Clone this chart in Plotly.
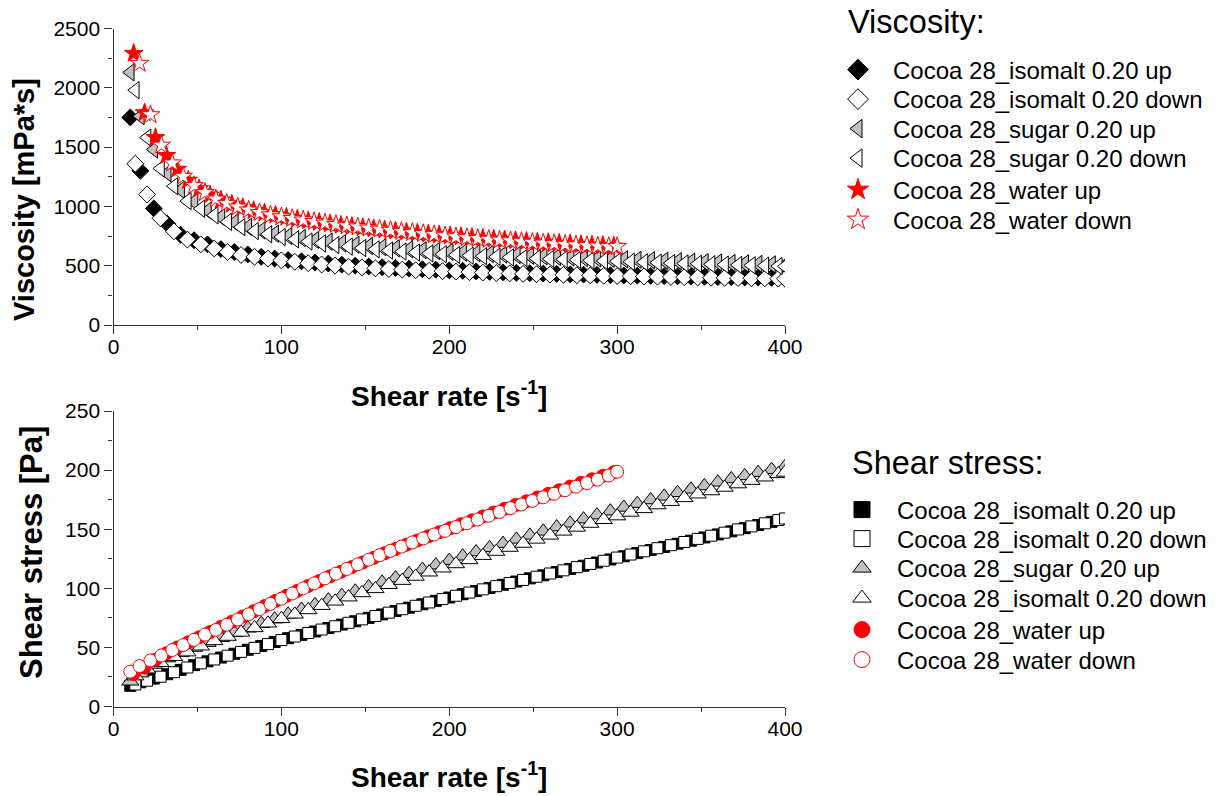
import plotly.graph_objects as go

W, H = 1219, 796
FONT = "Arial, Liberation Sans, sans-serif"

# ---------------- data ----------------
shear_up_400 = [10, 16, 24, 32, 40, 48, 56, 64, 72, 80, 88, 96, 104, 112, 120, 128, 136, 144, 152, 160,
                168, 176, 184, 192, 200, 208, 216, 224, 232, 240, 248, 256, 264, 272, 280, 288, 296, 304, 312, 320,
                328, 336, 344, 352, 360, 368, 376, 384, 392, 400]
shear_down_400 = [13, 20, 28, 36, 44, 52, 60, 68, 76, 84, 92, 100, 108, 116, 124, 132, 140, 148, 156, 164,
                  172, 180, 188, 196, 204, 212, 220, 228, 236, 244, 252, 260, 268, 276, 284, 292, 300, 308, 316, 324,
                  332, 340, 348, 356, 364, 372, 380, 388, 396, 400]
shear_water_up = [12, 18.5, 25, 31.5, 38, 44.5, 51, 57.5, 64, 70.5, 77, 83.5, 90, 96.5, 103, 109.5, 116, 122.5,
                  129, 135.5, 142, 148.5, 155, 161.5, 168, 174.5, 181, 187.5, 194, 200.5, 207, 213.5, 220, 226.5,
                  233, 239.5, 246, 252.5, 259, 265.5, 272, 278.5, 285, 291.5, 298]
shear_water_down = [10, 15.5, 22, 28.5, 35, 41.5, 48, 54.5, 61, 67.5, 74, 80.5, 87, 93.5, 100, 106.5, 113, 119.5,
                    126, 132.5, 139, 145.5, 152, 158.5, 165, 171.5, 178, 184.5, 191, 197.5, 204, 210.5, 217, 223.5,
                    230, 236.5, 243, 249.5, 256, 262.5, 269, 275.5, 282, 288.5, 295, 300]

# viscosity [mPa*s]
visc_isomalt_up = [1750, 1300, 983, 855, 760, 715, 680, 640, 615, 595, 575, 560, 548, 537, 527, 518, 509, 501, 493, 487,
                   481, 475, 470, 466, 461, 457, 452, 448, 444, 440, 437, 434, 431, 428, 425, 423, 420, 418, 416, 414,
                   412, 410, 408, 406, 404, 403, 401, 400, 398, 397]
visc_isomalt_down = [1360, 1100, 900, 790, 720, 680, 645, 615, 590, 575, 560, 545, 533, 521, 510, 501, 492, 485, 478, 472,
                     467, 462, 458, 454, 450, 446, 442, 438, 435, 431, 428, 425, 423, 420, 418, 415, 413, 411, 409, 407,
                     405, 403, 401, 399, 398, 396, 395, 393, 391, 390]
visc_sugar_up = [2130, 1760, 1480, 1280, 1140, 1040, 965, 910, 865, 828, 797, 770, 750, 733, 717, 703, 690, 677, 666, 656,
                 647, 638, 630, 623, 617, 611, 605, 599, 594, 589, 584, 579, 575, 570, 566, 562, 558, 554, 550, 546,
                 542, 538, 534, 530, 527, 523, 519, 515, 511, 507]
visc_sugar_down = [1980, 1580, 1320, 1170, 1045, 980, 925, 870, 825, 792, 765, 742, 722, 704, 688, 674, 661, 649, 638, 628,
                   619, 611, 604, 597, 591, 585, 580, 575, 570, 565, 561, 557, 553, 549, 545, 541, 537, 533, 529, 526,
                   522, 519, 516, 512, 509, 506, 503, 500, 497, 495]
visc_water_up = [2290, 1789, 1580, 1429, 1313, 1220, 1149, 1096, 1053, 1018, 990, 965, 944, 926, 909, 893, 879, 866, 853,
                 841, 831, 821, 812, 802, 793, 785, 776, 768, 760, 752, 745, 738, 731, 724, 718, 712, 706, 700, 695,
                 689, 684, 679, 674, 670, 665]
visc_water_down = [2950, 2206, 1773, 1516, 1366, 1253, 1175, 1116, 1062, 1025, 995, 969, 947, 928, 912, 898, 885, 872,
                   860, 848, 837, 827, 817, 808, 798, 789, 780, 771, 762, 752, 744, 736, 729, 722, 716, 710, 703, 697,
                   691, 686, 680, 675, 670, 666, 662, 662]

# shear stress [Pa]
stress_isomalt_up = [17.5, 20.5, 23.6, 27.3, 31.0, 35.0, 38.2, 41.4, 44.6, 48.0, 51.2, 54.6, 57.8, 60.6, 63.5, 66.4,
                     69.3, 72.1, 75.0, 77.9, 80.8, 83.6, 86.5, 89.4, 92.2, 95.0, 97.7, 100.3, 103.0, 105.7, 108.4,
                     111.0, 113.7, 116.4, 119.1, 121.8, 124.4, 127.1, 129.8, 132.4, 135.0, 137.7, 140.3, 143.0, 145.6,
                     148.2, 150.9, 153.5, 156.2, 158.8]
stress_isomalt_down = [18.6, 21.8, 25.2, 29.0, 33.0, 36.5, 39.8, 43.0, 46.2, 49.6, 52.8, 56.2, 59.2, 62.2, 65.1, 67.9,
                       70.8, 73.7, 76.6, 79.4, 82.3, 85.2, 88.0, 90.9, 93.7, 96.4, 99.1, 101.8, 104.5, 107.1, 109.8,
                       112.5, 115.2, 117.9, 120.6, 123.3, 126.0, 128.6, 131.3, 133.9, 136.5, 139.2, 141.8, 144.5, 147.1,
                       149.8, 152.4, 155.0, 157.7, 159.0]
stress_sugar_up = [21.3, 28.2, 35.5, 41.0, 45.6, 49.9, 54.0, 58.2, 62.3, 66.2, 70.1, 73.9, 78.0, 82.1, 86.0, 90.0, 93.8,
                   97.5, 101.2, 105.0, 108.7, 112.3, 115.9, 119.6, 123.4, 127.1, 130.7, 134.2, 137.8, 141.4, 144.8,
                   148.2, 151.8, 155.0, 158.5, 161.9, 165.2, 168.4, 171.6, 174.7, 177.8, 180.8, 183.7, 186.6, 189.7,
                   192.5, 195.1, 197.8, 200.3, 202.8]
stress_sugar_down = [25.7, 31.6, 37.0, 42.1, 46.0, 51.0, 55.5, 59.2, 62.7, 66.5, 70.4, 74.2, 78.0, 81.7, 85.3, 89.0,
                     92.5, 96.1, 99.5, 103.0, 106.5, 110.0, 113.6, 117.0, 120.6, 124.0, 127.6, 131.1, 134.5, 137.9,
                     141.4, 144.8, 148.2, 151.5, 154.8, 158.0, 161.1, 164.2, 167.2, 170.4, 173.3, 176.5, 179.6, 182.3,
                     185.3, 188.2, 191.1, 194.0, 196.8, 198.0]
stress_water_up = [27.5, 33.1, 39.5, 45.0, 49.9, 54.3, 58.6, 63.0, 67.4, 71.8, 76.2, 80.6, 85.0, 89.4, 93.6, 97.8,
                   102.0, 106.1, 110.1, 114.0, 118.0, 121.9, 125.8, 129.6, 133.3, 136.9, 140.5, 144.0, 147.4, 150.8,
                   154.2, 157.5, 160.8, 164.1, 167.3, 170.5, 173.7, 176.8, 179.9, 183.0, 186.1, 189.2, 192.2, 195.2,
                   198.2]
stress_water_down = [29.5, 34.2, 39.0, 43.2, 47.8, 52.0, 56.4, 60.8, 64.8, 69.2, 73.6, 78.0, 82.4, 86.8, 91.2, 95.6,
                     100.0, 104.2, 108.4, 112.4, 116.4, 120.3, 124.2, 128.0, 131.7, 135.3, 138.8, 142.2, 145.5, 148.6,
                     151.8, 155.0, 158.2, 161.4, 164.6, 167.8, 170.9, 174.0, 177.0, 180.0, 183.0, 186.0, 189.0, 192.0,
                     195.4, 198.6]

visc_names = ["Cocoa 28_isomalt 0.20 up", "Cocoa 28_isomalt 0.20 down", "Cocoa 28_sugar 0.20 up",
              "Cocoa 28_sugar 0.20 down", "Cocoa 28_water up", "Cocoa 28_water down"]
stress_names = ["Cocoa 28_isomalt 0.20 up", "Cocoa 28_isomalt 0.20 down", "Cocoa 28_sugar 0.20 up",
                "Cocoa 28_isomalt 0.20 down", "Cocoa 28_water up", "Cocoa 28_water down"]

# ---------------- styles ----------------
RED = "#FF0000"
GRAY = "#C0C0C0"
visc_styles = [
    dict(symbol="diamond", color="black", line="black", size=13),
    dict(symbol="diamond", color="white", line="black", size=13),
    dict(symbol="triangle-left", color=GRAY, line="black", size=15),
    dict(symbol="triangle-left", color="white", line="black", size=15),
    dict(symbol="star", color=RED, line=RED, size=14),
    dict(symbol="star", color="white", line=RED, size=14),
]
stress_styles = [
    dict(symbol="square", color="black", line="black", size=11),
    dict(symbol="square", color="white", line="black", size=11),
    dict(symbol="triangle-up", color=GRAY, line="black", size=15),
    dict(symbol="triangle-up", color="white", line="black", size=15),
    dict(symbol="circle", color=RED, line=RED, size=13),
    dict(symbol="circle", color="white", line=RED, size=13),
]

visc_x = [shear_up_400, shear_down_400, shear_up_400, shear_down_400, shear_water_up, shear_water_down]
visc_y = [visc_isomalt_up, visc_isomalt_down, visc_sugar_up, visc_sugar_down, visc_water_up, visc_water_down]
stress_x = visc_x
stress_y = [stress_isomalt_up, stress_isomalt_down, stress_sugar_up, stress_sugar_down, stress_water_up,
            stress_water_down]

fig = go.Figure()

def add_series(xs, ys, styles, names, xa, ya, legend_offset, legend_rows_px, legend_left_px):
    for i in range(6):
        st = styles[i]
        fig.add_trace(go.Scatter(
            x=xs[i], y=ys[i], mode="markers", xaxis=xa, yaxis=ya, showlegend=False,
            marker=dict(symbol=st["symbol"], size=st["size"], color=st["color"],
                        line=dict(color=st["line"], width=1)),
            name=names[i]))
    for i in range(6):
        st = styles[i]
        lid = "legend" if legend_offset + i == 1 else f"legend{legend_offset + i}"
        fig.add_trace(go.Scatter(
            x=[None], y=[None], mode="markers", xaxis=xa, yaxis=ya, showlegend=True, legend=lid,
            marker=dict(symbol=st["symbol"], size=16, color=st["color"], line=dict(color=st["line"], width=1)),
            name=names[i], hoverinfo="skip"))
        fig.update_layout(**{lid: dict(
            x=legend_left_px / W, xanchor="left", y=1 - legend_rows_px[i] / H, yanchor="middle",
            font=dict(family=FONT, size=24, color="black"), itemwidth=60,
            bgcolor="rgba(0,0,0,0)", borderwidth=0)})

add_series(visc_x, visc_y, visc_styles, visc_names, "x", "y", 1,
           [70, 99.5, 129, 158.5, 190, 220], 823)
add_series(stress_x, stress_y, stress_styles, stress_names, "x2", "y2", 7,
           [510, 539, 568.5, 598.5, 630, 660], 827)

axis_common = dict(showline=True, linecolor="#333333", linewidth=1.3, ticks="outside", ticklen=8, tickwidth=1.2,
                   tickcolor="#333333", showgrid=False, zeroline=False,
                   tickfont=dict(family=FONT, size=21, color="black"))
minor_x = dict(dtick=50, ticklen=4, ticks="outside", tickcolor="#333333", tickwidth=1.2)
x_dom = [113.5 / W, 785 / W]
fig.update_layout(
    width=W, height=H, paper_bgcolor="white", plot_bgcolor="white",
    margin=dict(l=0, r=0, t=0, b=0, autoexpand=False),
    xaxis=dict(axis_common, domain=x_dom, range=[0, 400], dtick=100, tick0=0, anchor="y",
               ticklabelstandoff=-5, minor=minor_x),
    yaxis=dict(axis_common, domain=[1 - 325 / H, 1 - 28.5 / H], range=[0, 2500], dtick=500, tick0=0, anchor="x",
               minor=dict(dtick=250, ticklen=4, ticks="outside", tickcolor="#333333", tickwidth=1.2)),
    xaxis2=dict(axis_common, domain=x_dom, range=[0, 400], dtick=100, tick0=0, anchor="y2",
                ticklabelstandoff=-5, minor=minor_x),
    yaxis2=dict(axis_common, domain=[1 - 706.5 / H, 1 - 411 / H], range=[0, 250], dtick=50, tick0=0, anchor="x2",
                minor=dict(dtick=25, ticklen=4, ticks="outside", tickcolor="#333333", tickwidth=1.2)),
)

title_font = dict(family=FONT, size=28, color="black")
annotations = [
    dict(text="<b>Shear rate [s<sup>-1</sup>]</b>", x=449 / W, y=1 - 394 / H, xanchor="center", yanchor="middle",
         font=title_font),
    dict(text="<b>Shear rate [s<sup>-1</sup>]</b>", x=449 / W, y=1 - 775 / H, xanchor="center", yanchor="middle",
         font=title_font),
    dict(text="<b>Viscosity [mPa*s]</b>", x=24 / W, y=1 - 200 / H, xanchor="center", yanchor="middle",
         textangle=-90, font=dict(family=FONT, size=29, color="black")),
    dict(text="<b>Shear stress [Pa]</b>", x=31 / W, y=1 - 553 / H, xanchor="center", yanchor="middle",
         textangle=-90, font=dict(family=FONT, size=31, color="black")),
    dict(text="Viscosity:", x=846 / W, y=1 - 22 / H, xanchor="left", yanchor="middle",
         font=dict(family=FONT, size=32.5, color="black")),
    dict(text="Shear stress:", x=850 / W, y=1 - 463 / H, xanchor="left", yanchor="middle",
         font=dict(family=FONT, size=32.5, color="black")),
]
for a in annotations:
    a.update(xref="paper", yref="paper", showarrow=False)
fig.update_layout(annotations=annotations)

fig.write_html("out.html")
